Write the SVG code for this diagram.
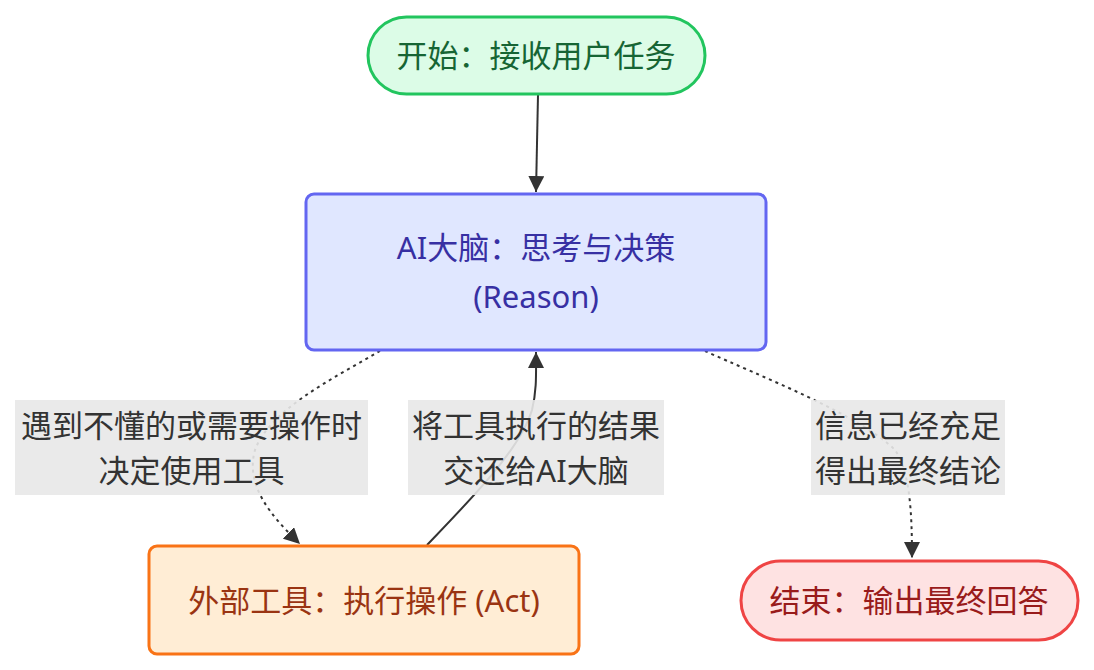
<svg xmlns="http://www.w3.org/2000/svg" width="1094" height="670" viewBox="0 0 1094 670">
<style>
text{font-family:"Noto Sans","Noto Sans CJK SC",sans-serif;font-size:31px;text-anchor:middle;dominant-baseline:central}
.edge{fill:none;stroke:#333;stroke-width:2}
.dot{stroke-dasharray:3 4}
.lbl rect{fill:#e8e8e8;opacity:0.9}
.lbl text{fill:#333}
</style>
<defs>
<marker id="arr" viewBox="0 0 10 10" refX="9" refY="5" markerWidth="8" markerHeight="8" markerUnits="userSpaceOnUse" orient="auto">
<path d="M0,0 L10,5 L0,10 z" fill="#333"/>
</marker>
<marker id="ah" viewBox="0 0 10 10" refX="10" refY="5" markerWidth="16" markerHeight="16" markerUnits="userSpaceOnUse" orient="auto">
<path d="M0,0 L10,5 L0,10 z" fill="#333"/>
</marker>
</defs>
<rect width="1094" height="670" fill="#ffffff"/>
<g id="connectors">
<path class="edge" d="M538,95 L536,192" marker-end="url(#ah)"/>
<path class="edge dot" d="M380,351 C330,380 270,410 255,450 C245,485 270,515 300,544" marker-end="url(#ah)"/>
<path class="edge" d="M427,545 C470,500 520,450 532,410 C537,390 536,372 536,352" marker-end="url(#ah)"/>
<path class="edge dot" d="M705,351 C760,376 860,415 895,450 C910,472 912,512 912,558" marker-end="url(#ah)"/>
</g>
<g id="label-tool" class="lbl">
<rect x="15" y="400" width="353" height="95"/>
<text x="191.5" y="425">遇到不懂的或需要操作时</text>
<text x="191.5" y="470">决定使用工具</text>
</g>
<g id="label-return" class="lbl">
<rect x="408" y="400" width="256" height="95"/>
<text x="536" y="425">将工具执行的结果</text>
<text x="536" y="470">交还给AI大脑</text>
</g>
<g id="label-done" class="lbl">
<rect x="811" y="400" width="194" height="95"/>
<text x="908" y="425">信息已经充足</text>
<text x="908" y="470">得出最终结论</text>
</g>
<g id="start">
<rect x="368" y="17" width="337" height="77" rx="38.5" fill="#dcfce7" stroke="#22c55e" stroke-width="3"/>
<text x="536" y="55" fill="#166534">开始：接收用户任务</text>
</g>
<g id="brain">
<rect x="306" y="194" width="460" height="156" rx="8" fill="#e0e7ff" stroke="#6366f1" stroke-width="3"/>
<text x="536" y="247" fill="#3730a3">AI大脑：思考与决策</text>
<text x="536" y="296" fill="#3730a3">(Reason)</text>
</g>
<g id="tool">
<rect x="149" y="546" width="430" height="108" rx="8" fill="#ffedd5" stroke="#f97316" stroke-width="3"/>
<text x="364" y="600" fill="#9a3412">外部工具：执行操作 (Act)</text>
</g>
<g id="end">
<rect x="741" y="561" width="337" height="79" rx="39.5" fill="#fee2e2" stroke="#ef4444" stroke-width="3"/>
<text x="909" y="600" fill="#991b1b">结束：输出最终回答</text>
</g>
</svg>
